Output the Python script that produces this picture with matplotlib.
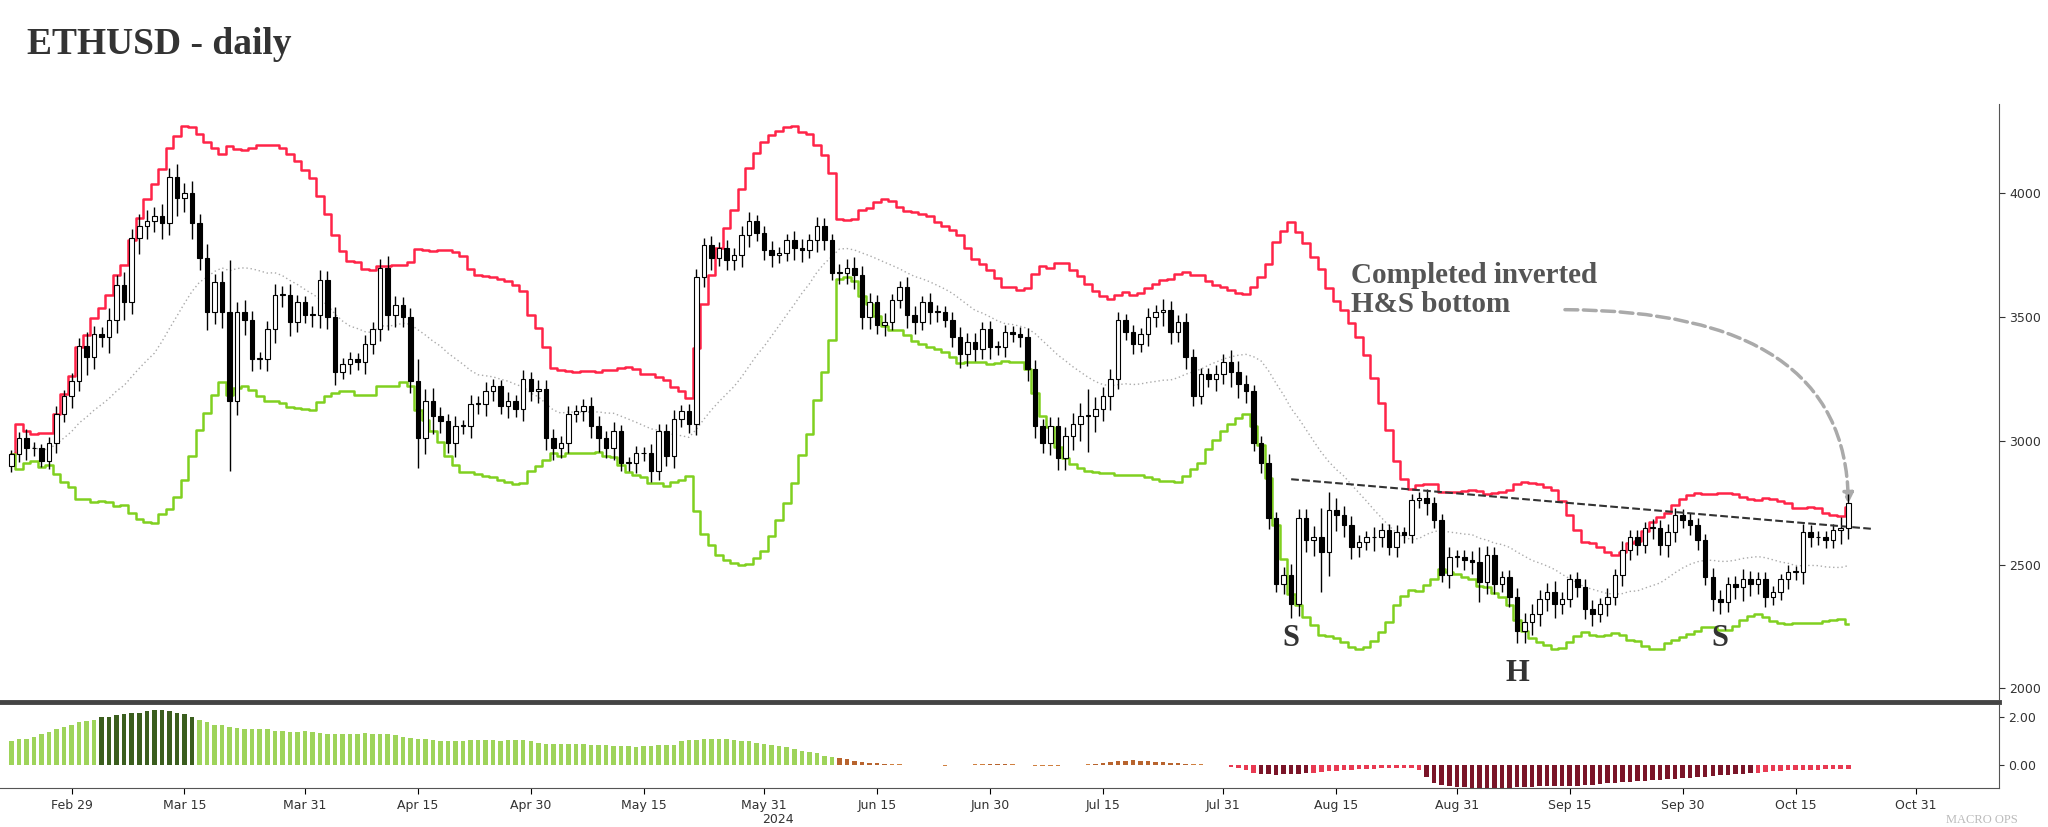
import numpy as np, pandas as pd
import matplotlib
matplotlib.use("Agg")
import matplotlib.pyplot as plt
import matplotlib.dates as mdates
from matplotlib.patches import FancyArrowPatch

start = "2024-02-21"
closes = [2945,3010,2970,2970,2920,2990,3110,3180,3240,3385,3340,
 3430,3420,3490,3630,3560,3820,3870,3890,3910,3880,4065,3980,4000,3880,3740,3520,3640,3520,3160,3520,3490,3330,3330,3450,3590,3590,3480,3560,3510,3510,3650,
 3500,3280,3310,3330,3320,3390,3450,3700,3510,3550,3500,3240,3010,3160,3100,3080,2990,3060,3060,3150,3150,3200,3220,3140,3160,3130,3250,3200,3210,3010,
 2970,2990,3110,3120,3140,3060,3010,2970,3040,2910,2910,2950,2950,2880,3040,2940,3090,3120,3070,3660,3790,3740,3780,3730,3750,3830,3890,3840,3770,3750,3760,
 3810,3780,3770,3810,3870,3810,3680,3680,3700,3670,3500,3560,3470,3480,3570,3620,3510,3480,3560,3520,3520,3490,3420,3350,3400,3370,3450,3380,3380,3440,
 3430,3420,3290,3060,2990,3060,2930,3020,3070,3100,3100,3130,3180,3250,3490,3440,3390,3430,3500,3520,3530,3440,3480,3340,3180,3270,3250,3270,3320,3280,3230,
 3200,2990,2910,2690,2420,2460,2340,2690,2600,2610,2550,2720,2700,2660,2570,2590,2610,2610,2640,2570,2630,2620,2760,2770,2750,2680,2460,2530,2530,2520,2510,
 2430,2540,2420,2450,2370,2230,2270,2300,2360,2390,2340,2360,2440,2410,2320,2300,2340,2370,2460,2560,2610,2580,2650,2650,2580,2630,2700,2680,2660,2600,
 2450,2360,2350,2420,2410,2440,2420,2440,2370,2390,2440,2470,2470,2630,2610,2610,2600,2640,2650,2750]
opens0 = 2900
wick_up = [30,40,60,40,30,40,50,40,60,50,90,60,50,80,70,90,60,80,70,60,80,60,90,70,80,60,90,60,80,350,70,80,60,50,60,70,60,70,50,40,60,70,
 60,70,40,50,40,60,50,60,80,60,50,60,150,80,90,60,50,70,40,60,50,60,50,40,60,40,60,50,60,60,60,50,50,40,50,60,70,50,60,40,40,50,40,60,50,50,60,40,50,60,50,
 60,40,50,50,60,60,40,50,60,40,40,60,60,40,60,50,40,60,60,70,60,60,50,60,40,40,70,60,40,60,50,40,50,70,60,60,50,60,40,50,40,50,60,60,50,60,
 60,60,70,90,180,80,60,70,50,40,50,40,60,50,70,60,50,60,50,40,40,60,50,80,70,60,40,50,60,40,50,70,60,60,80,200,120,80,60,60,50,40,70,50,40,50,40,40,40,60,40,40,70,50,50,60,100,60,50,40,50,
 60,60,70,60,60,70,50,40,50,50,60,40,60,40,60,50,50,40,60,50,60,50,40,50,50,40,60,60,50,60,70,60,50,50,40,40,50,40,60,50,40,40,40,70,60,50,40,40,40,20]
osc_vals = [1.0,1.1,1.1,1.2,1.3,1.4,1.5,1.6,1.7,
 1.8,1.85,1.9,2.0,2.0,2.1,2.15,2.2,2.2,2.25,2.3,2.3,2.25,2.2,2.15,
 2.0,1.9,1.8,1.7,1.7,1.6,1.55,1.5,1.5,1.5,1.5,1.45,1.45,1.4,1.4,1.45,
 1.4,1.35,1.3,1.3,1.3,1.3,1.3,1.35,1.3,1.3,1.3,1.25,1.2,1.15,1.1,1.1,1.05,1.0,1.0,1.0,1.0,1.05,1.05,1.05,1.05,1.0,1.05,1.05,1.05,1.0,
 0.95,0.9,0.9,0.9,0.9,0.9,0.9,0.85,0.85,0.85,0.8,0.8,0.8,0.75,0.8,0.8,0.85,0.85,0.85,1.0,1.05,1.05,1.1,1.1,1.1,1.1,1.05,1.0,1.0,0.95,0.9,
 0.85,0.8,0.75,0.7,0.6,0.55,0.5,0.4,0.35,0.3,0.25,0.2,0.15,0.1,0.08,0.06,0.05,0.04,0.03,0.02,0.02,0.01,0.0,-0.01,0.0,0.02,0.03,0.04,0.05,0.06,
 0.07,0.06,0.05,0.03,0.01,-0.01,-0.02,-0.02,-0.01,0.0,0.01,0.02,0.04,0.06,0.1,0.14,0.18,0.2,0.22,0.2,0.18,0.15,0.12,0.1,0.08,0.06,0.05,0.04,0.03,0.02,0.0,
 -0.05,-0.1,-0.2,-0.3,-0.35,-0.38,-0.4,-0.38,-0.36,-0.34,-0.32,-0.3,-0.28,-0.25,-0.22,-0.2,-0.18,-0.16,-0.15,-0.14,-0.13,-0.12,-0.12,-0.12,-0.12,-0.2,-0.5,-0.75,-0.8,-0.85,-0.9,
 -0.92,-0.95,-0.95,-0.95,-0.95,-0.95,-0.95,-0.92,-0.9,-0.9,-0.88,-0.86,-0.85,-0.85,-0.85,-0.85,-0.82,-0.8,-0.78,-0.75,-0.72,-0.7,-0.68,-0.66,-0.65,-0.63,-0.6,-0.58,-0.56,-0.54,
 -0.52,-0.5,-0.48,-0.45,-0.42,-0.4,-0.38,-0.35,-0.32,-0.3,-0.28,-0.25,-0.22,-0.2,-0.18,-0.18,-0.18,-0.18,-0.17,-0.17,-0.16,-0.16]

dates = pd.date_range(start, periods=len(closes), freq="D")
c = pd.Series(closes, index=dates, dtype=float)
o = c.shift(1).fillna(opens0)
w = pd.Series(wick_up[:len(c)], index=dates, dtype=float)
hi = np.maximum(o, c) + w*0.6
lo = np.minimum(o, c) - w*0.8

ma = c.rolling(20, min_periods=1).mean()
sd = c.rolling(20, min_periods=2).std().fillna(0)
upper = ma + 2*sd
lower = ma - 2*sd
n = min(len(osc_vals), len(dates))
odates = dates[:n]
osc = np.array(osc_vals[:n])

fig = plt.figure(figsize=(20.48, 8.27), dpi=100)
ax = fig.add_axes([0.0, 0.155, 0.976, 0.719])
ax2 = fig.add_axes([0.0, 0.047, 0.976, 0.100], sharex=ax)
serif = "Liberation Serif"
fig.text(0.013, 0.935, "ETHUSD - daily", fontsize=27, fontweight="bold", family=serif, color="#333333")

ax.plot(dates, upper, color="#ff2448", lw=1.8, drawstyle="steps-mid")
ax.plot(dates, lower, color="#80d020", lw=1.8, drawstyle="steps-mid")
ax.plot(dates, ma, color="#aaaaaa", lw=1.0, ls=(0, (1, 2)))
wdt = 0.6
for d, oo, cc, h, l in zip(dates, o, c, hi, lo):
    ax.vlines(d, l, h, color="black", lw=1)
    up = cc >= oo
    ax.bar(d, abs(cc-oo) if abs(cc-oo) > 3 else 3, bottom=min(oo, cc), width=wdt,
           color="white" if up else "black", edgecolor="black", lw=0.8, zorder=3)

ax.plot([pd.Timestamp("2024-08-09"), pd.Timestamp("2024-10-25")], [2845, 2645], color="#333333", ls="--", lw=1.5)
ax.text(pd.Timestamp("2024-08-17"), 3520, "Completed inverted\nH&S bottom", family=serif, fontsize=21,
        fontweight="bold", color="#555555", linespacing=1.1)
arr = FancyArrowPatch((mdates.date2num(pd.Timestamp("2024-09-14")), 3530),
                      (mdates.date2num(pd.Timestamp("2024-10-22")), 2735),
                      connectionstyle="angle3,angleA=0,angleB=-90", arrowstyle="-|>", mutation_scale=15,
                      color="#aaaaaa", lw=2.5, ls="--")
ax.add_patch(arr)
for dd, yy, s in [("2024-08-09", 2170, "S"), ("2024-09-08", 2030, "H"), ("2024-10-05", 2170, "S")]:
    ax.text(pd.Timestamp(dd), yy, s, family=serif, fontsize=22, fontweight="bold", color="#333333", ha="center")

ax.set_ylim(1958, 4360)
ax.set_xlim(pd.Timestamp("2024-02-19 12:00"), pd.Timestamp("2024-11-11"))
ax.yaxis.tick_right()
ax.set_yticks([2000, 2500, 3000, 3500, 4000])
ax.tick_params(axis="y", labelsize=9, colors="#333333", length=4)
ax.tick_params(axis="x", bottom=False, labelbottom=False)
for s in ["top", "left", "bottom"]:
    ax.spines[s].set_visible(False)
ax.spines["right"].set_color("#555555")
fig.add_artist(plt.Line2D([0, 0.976], [0.151, 0.151], color="#444444", lw=3.5))

cols = []
prev = 0
for v in osc:
    if v > 1.9: cols.append("#3b5e1e")
    elif v > 0.3: cols.append("#9ed45a")
    elif v > 0.05: cols.append("#b8642e")
    elif v > -0.05: cols.append("#d08040")
    elif v < -0.3: cols.append("#7a1428")
    else: cols.append("#e83a52")
ax2.bar(odates, osc, width=0.6, color=cols)
ax2.set_ylim(-0.95, 2.5)
ax2.yaxis.tick_right()
ax2.set_yticks([0, 2])
ax2.set_yticklabels(["0.00", "2.00"])
ax2.tick_params(axis="y", labelsize=9, colors="#333333")
for s in ["top", "left"]:
    ax2.spines[s].set_visible(False)
ax2.spines["right"].set_color("#555555")
ax2.spines["bottom"].set_color("#555555")
ticks = [pd.Timestamp(x) for x in ["2024-02-29","2024-03-15","2024-03-31","2024-04-15","2024-04-30","2024-05-15",
        "2024-05-31","2024-06-15","2024-06-30","2024-07-15","2024-07-31","2024-08-15","2024-08-31","2024-09-15",
        "2024-09-30","2024-10-15","2024-10-31"]]
ax2.set_xticks(ticks)
ax2.set_xticklabels([t.strftime("%b ") + str(t.day) for t in ticks], fontsize=9, color="#333333")
ax2.tick_params(axis="x", length=4)
fig.text(0.372, 0.005, "2024", fontsize=9, color="#333333")
fig.text(0.985, 0.005, "MACRO OPS", fontsize=9, color="#bbbbbb", family=serif, ha="right")
fig.savefig("out.png", dpi=100, facecolor="white")
